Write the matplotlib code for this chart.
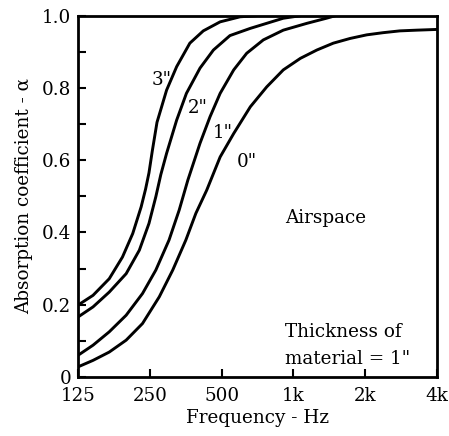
import matplotlib
matplotlib.use("Agg")
import matplotlib.pyplot as plt
from matplotlib.ticker import FixedLocator, FixedFormatter, NullLocator

# ---- data ----
f3 = [125, 144.5, 169, 192, 212, 230, 240, 248, 256, 268, 294, 324, 368, 419, 493, 598, 700]
a3 = [0.199, 0.226, 0.272, 0.332, 0.397, 0.471, 0.52, 0.565, 0.625, 0.705, 0.794, 0.859, 0.924, 0.958, 0.983, 0.997, 1.0]

f2 = [125, 144.5, 169, 199, 226, 248, 265, 278, 294, 324, 356, 406, 462, 542, 660, 907, 1070]
a2 = [0.166, 0.194, 0.235, 0.286, 0.351, 0.425, 0.499, 0.56, 0.619, 0.711, 0.785, 0.855, 0.905, 0.945, 0.965, 0.993, 1.0]

f1 = [125, 144.5, 169, 199, 233, 265, 301, 332, 361, 406, 447, 493, 562, 637, 748, 907, 1141, 1376, 1500]
a1 = [0.060, 0.088, 0.125, 0.171, 0.231, 0.296, 0.379, 0.462, 0.545, 0.647, 0.72, 0.785, 0.85, 0.896, 0.933, 0.96, 0.979, 0.993, 1.0]

f0 = [125, 144.5, 169, 199, 233, 274, 312, 354, 390, 433, 493, 562, 660, 773, 907, 1070, 1254, 1470, 1728, 2030, 2377, 2795, 3295, 4000]
a0 = [0.028, 0.046, 0.069, 0.102, 0.148, 0.222, 0.296, 0.379, 0.453, 0.517, 0.609, 0.674, 0.748, 0.803, 0.85, 0.882, 0.905, 0.924, 0.937, 0.947, 0.953, 0.958, 0.960, 0.962]

curve_labels = ['3"', '2"', '1"', '0"']
label_pos_f = [281, 398, 506, 637]
label_pos_a = [0.822, 0.744, 0.675, 0.595]

x_ticks = [125, 250, 500, 1000, 2000, 4000]
x_ticklabels = ['125', '250', '500', '1k', '2k', '4k']
y_ticks = [0, 0.1, 0.2, 0.3, 0.4, 0.5, 0.6, 0.7, 0.8, 0.9, 1.0]
y_ticklabels = ['0', '', '0.2', '', '0.4', '', '0.6', '', '0.8', '', '1.0']

# ---- plot ----
plt.rcParams['font.family'] = ['DejaVu Serif']
FS = 13.2
fig = plt.figure(figsize=(4.49, 4.36), dpi=100)
ax = fig.add_axes([78/449, 1 - 377/436, (437 - 78)/449, (377 - 15.7)/436])

for f, a in [(f3, a3), (f2, a2), (f1, a1), (f0, a0)]:
    ax.plot(f, a, color='black', lw=2.1, solid_capstyle='round', solid_joinstyle='round')

ax.set_xscale('log')
ax.set_xlim(125, 4000)
ax.set_ylim(0, 1.0)
ax.xaxis.set_major_locator(FixedLocator(x_ticks))
ax.xaxis.set_major_formatter(FixedFormatter(x_ticklabels))
ax.xaxis.set_minor_locator(NullLocator())
ax.yaxis.set_major_locator(FixedLocator(y_ticks))
ax.yaxis.set_major_formatter(FixedFormatter(y_ticklabels))

ax.tick_params(direction='in', length=6, width=1.5, labelsize=FS, colors='black')
ax.tick_params(axis='x', pad=7)
ax.tick_params(axis='y', pad=5)
for s in ax.spines.values():
    s.set_linewidth(2.0)

ax.set_xlabel('Frequency - Hz', fontsize=FS, labelpad=3)
ax.set_ylabel('Absorption coefficient - α', fontsize=FS, labelpad=6)

for lab, fx, ay in zip(curve_labels, label_pos_f, label_pos_a):
    ax.text(fx, ay, lab, fontsize=FS, ha='center', va='center')

ax.text(922, 0.439, 'Airspace', fontsize=FS, ha='left', va='center')
ax.text(922, 0.124, 'Thickness of', fontsize=FS, ha='left', va='center')
ax.text(922, 0.049, 'material = 1"', fontsize=FS, ha='left', va='center')

fig.savefig('out.png', dpi=100)
